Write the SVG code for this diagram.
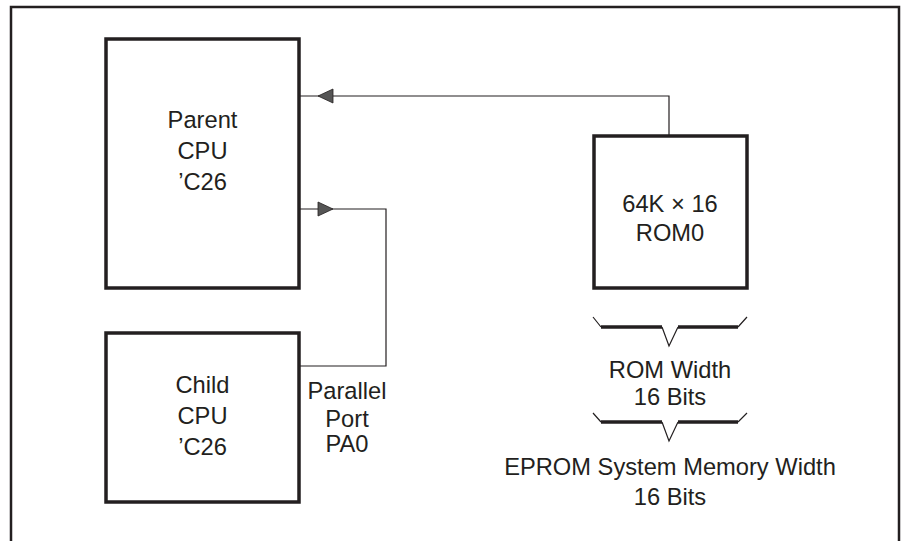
<svg xmlns="http://www.w3.org/2000/svg" width="901" height="541" viewBox="0 0 901 541">
<style>
.box{fill:#fff;stroke:#231f20;stroke-width:3.5}
.wire{fill:none;stroke:#231f20;stroke-width:1.2}
.t{font-family:"Liberation Sans",Arial,sans-serif;font-size:23.7px;fill:#231f20;text-anchor:middle}
.brace-thick{fill:none;stroke:#231f20;stroke-width:3.5}
.brace-thin{fill:none;stroke:#231f20;stroke-width:1.2}
.head{fill:#555;stroke:#231f20;stroke-width:0.8}
</style>
<rect width="901" height="541" fill="#fff"/>
<path d="M11,541 V7 H899 V541" fill="none" stroke="#231f20" stroke-width="2.5"/>
<g id="connectors">
<polyline class="wire" points="669,135 669,96 299,96"/>
<path class="head" d="M333,89 L318,96 L333,103 Z"/>
<polyline class="wire" points="299,366 386,366 386,209 299,209"/>
<path class="head" d="M318,202 L333,209 L318,216 Z"/>
</g>
<g id="parent-cpu">
<rect class="box" x="106" y="39" width="193" height="249"/>
<text class="t" x="202.5" y="128">Parent</text>
<text class="t" x="202.5" y="159">CPU</text>
<text class="t" x="202.5" y="190">’C26</text>
</g>
<g id="child-cpu">
<rect class="box" x="106" y="333" width="193" height="169"/>
<text class="t" x="202.5" y="393">Child</text>
<text class="t" x="202.5" y="424">CPU</text>
<text class="t" x="202.5" y="455">’C26</text>
</g>
<g id="parallel-port">
<text class="t" x="347" y="399">Parallel</text>
<text class="t" x="347" y="427">Port</text>
<text class="t" x="347" y="452">PA0</text>
</g>
<g id="rom0">
<rect class="box" x="594" y="136" width="153" height="152"/>
<text class="t" x="670" y="212">64K × 16</text>
<text class="t" x="670" y="241">ROM0</text>
</g>
<g id="rom-width">
<path class="brace-thin" d="M593,317 L601,327 M738,327 L747,317 M662,327 L669,346 L678,327"/>
<path class="brace-thick" d="M601,327 H662 M678,327 H738"/>
<text class="t" x="670" y="378">ROM Width</text>
<text class="t" x="670" y="405">16 Bits</text>
</g>
<g id="system-width">
<path class="brace-thin" d="M593,413 L601,422 M738,422 L747,413 M662,422 L669,441 L678,422"/>
<path class="brace-thick" d="M601,422 H662 M678,422 H738"/>
<text class="t" x="670" y="475">EPROM System Memory Width</text>
<text class="t" x="670" y="505">16 Bits</text>
</g>
</svg>
